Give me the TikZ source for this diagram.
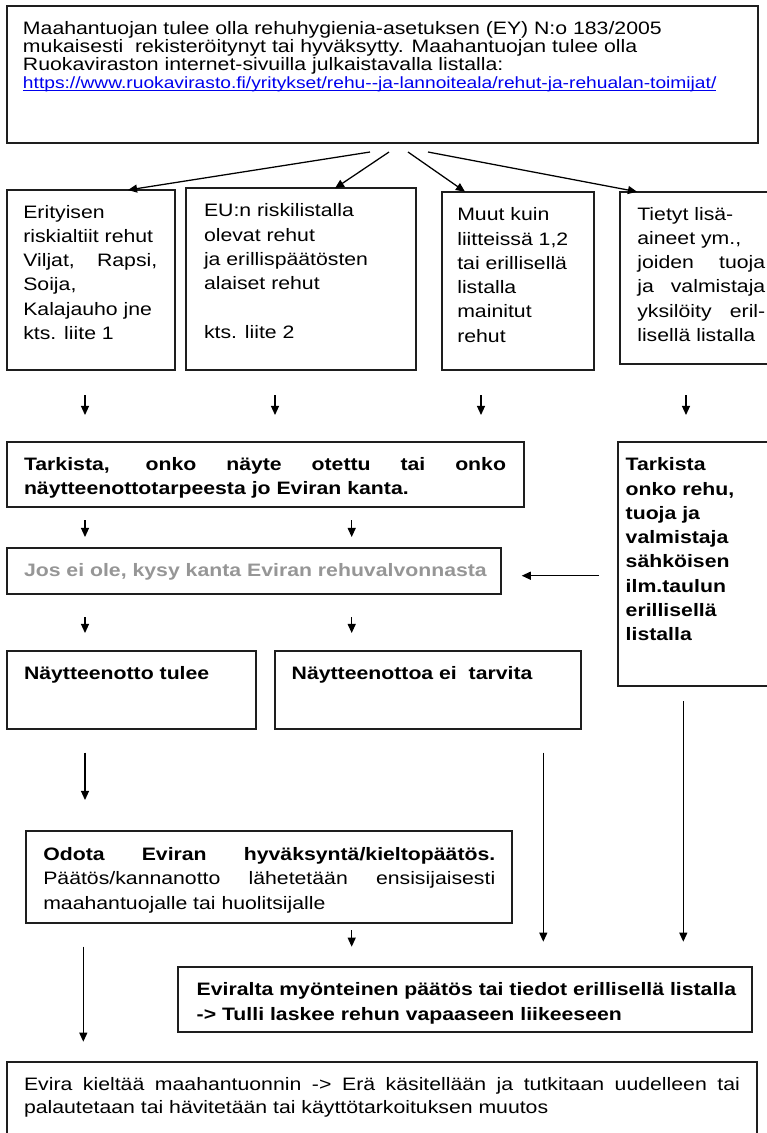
\documentclass[tikz,border=0pt]{standalone}
\usepackage{fontspec}
\setmainfont[FakeStretch=1.18]{Liberation Sans}
\usetikzlibrary{arrows.meta,calc}
\newdimen\px \px=0.75pt
\definecolor{linkblue}{RGB}{0,0,238}
\definecolor{jgray}{RGB}{150,150,150}
\definecolor{edge}{RGB}{30,30,30}
% #1 baselineskip, #2 width, #3 height, #4 left pad, #5 first baseline, #6 content
\newcommand\bxc[6][24.3]{%
  \parbox[c][#3\px][t]{#2\px}{\fontsize{13.5pt}{#1\px}\selectfont
    \lineskiplimit=-100pt\relax\leftskip=#4\px\relax
    \rightskip=0pt plus 1fil\relax\hbadness=10000\relax
    \vspace*{\dimexpr#5\px-14\px\relax}%
    \noindent\rule{0pt}{14\px}\ignorespaces#6\par}}
\newcommand\jl[2]{\makebox[#1\px][s]{#2}}
\newcommand\ulink[1]{\setbox0=\hbox{#1}\rlap{\rule[-2.2\px]{\wd0}{0.9\px}}\box0}
\tikzset{
  box/.style={draw=edge, line width=1.45pt, inner sep=0pt, outer sep=0pt, anchor=north west},
  arr/.style={-{Triangle[length=6.8pt,width=6pt]}, line width=0.95pt, black}
}
\begin{document}
\begin{tikzpicture}[x=0.75pt, y=-0.75pt]
\useasboundingbox (0,0) rectangle (767,1133);
\fill[white] (0,0) rectangle (767,1133);
\clip (0,0) rectangle (767,1133);

\node[box] (top) at (7,6) {\bxc[18]{751}{137}{16}{28.5}{%
Maahantuojan tulee olla rehuhygienia-asetuksen (EY) N:o 183/2005\\
mukaisesti\ \ rekisteröitynyt tai hyväksytty. Maahantuojan tulee olla\\
Ruokaviraston internet-sivuilla julkaistavalla listalla:\\
{\fontsize{12.2pt}{13pt}\selectfont\color{linkblue}\ulink{https://www.ruokavirasto.fi/yritykset/rehu-{}-ja-lannoiteala/rehut-ja-rehualan-toimijat/}}}};

\node[box] (b1) at (7.3,190) {\bxc{167.4}{180.3}{16}{28}{%
Erityisen\\ riskialtiit rehut\\ \jl{134}{Viljat, Rapsi,}\\ Soija,\\ Kalajauho jne\\ kts. liite 1}};
\node[box] (b2) at (186,188.3) {\bxc{230}{182}{18}{28.4}{%
EU:n riskilistalla\\ olevat rehut\\ ja erillispäätösten\\ alaiset rehut\\ \mbox{}\\ kts. liite 2}};
\node[box] (b3) at (441.7,191.7) {\bxc{152.6}{178.6}{15.6}{29}{%
Muut kuin\\ liitteissä 1,2\\ tai erillisellä\\ listalla\\ mainitut\\ rehut}};
\node[box] (b4) at (620,191.7) {\bxc{160}{172.3}{17.3}{28.3}{%
Tietyt lisä-\\ aineet ym.,\\ \jl{128}{joiden tuoja}\\ \jl{128}{ja valmistaja}\\ \jl{128}{yksilöity eril-}\\ lisellä listalla}};

\node[box] (tark) at (7.3,441.7) {\bxc{516.7}{65.6}{16.7}{28.7}{\bfseries
\jl{482}{Tarkista, onko näyte otettu tai onko}\\ näytteenottotarpeesta jo Eviran kanta.}};
\node[box] (jos) at (7.3,547.7) {\bxc{493.4}{46.3}{16.7}{29}{\bfseries\color{jgray}%
Jos ei ole, kysy kanta Eviran rehuvalvonnasta}};
\node[box] (n1) at (7.3,651) {\bxc{248.7}{78.3}{16.7}{28.3}{\bfseries Näytteenotto tulee}};
\node[box] (n2) at (275.3,651) {\bxc{305.7}{78.3}{16.4}{28.3}{\bfseries Näytteenottoa ei\ \ tarvita}};
\node[box] (rb) at (617.7,441.7) {\bxc{160}{244}{8}{29}{\bfseries
Tarkista\\ onko rehu,\\ tuoja ja\\ valmistaja\\ sähköisen\\ ilm.taulun\\ erillisellä\\ listalla}};

\node[box] (od) at (25.7,831) {\bxc[24.6]{486}{92.3}{17.6}{29}{%
{\bfseries\jl{452}{Odota Eviran hyväksyntä/kieltopäätös.}}\\
\jl{452}{Päätös/kannanotto lähetetään ensisijaisesti}\\ maahantuojalle tai huolitsijalle}};
\node[box] (ok) at (178.3,966.7) {\bxc[25.3]{573.4}{65.6}{18.4}{28.3}{\bfseries
Eviralta myönteinen päätös tai tiedot erillisellä listalla\\ -> Tulli laskee rehun vapaaseen liikeeseen}};
\node[box] (no) at (7.3,1061.7) {\bxc[23.5]{750}{100}{16.7}{28.3}{%
\jl{716}{Evira kieltää maahantuonnin -> Erä käsitellään ja tutkitaan uudelleen tai}\\
palautetaan tai hävitetään tai käyttötarkoituksen muutos}};

% connectors from the top box
\coordinate (s1) at (370,152);
\coordinate (s2) at (389,152);
\coordinate (s3) at (408,152);
\coordinate (s4) at (428,152);
\draw[arr] (s1) -- ($(b1.north west)+(120.7,0)$);
\draw[arr] (s2) -- ($(b2.north west)+(149,0)$);
\draw[arr] (s3) -- ($(b3.north west)+(23.3,0)$);
\draw[arr] (s4) -- ($(b4.north west)+(17,0)$);

% short arrows below the four boxes
\coordinate (d1a) at (85,395);  \coordinate (d1b) at (85,415);
\coordinate (d2a) at (275,395); \coordinate (d2b) at (275,415);
\coordinate (d3a) at (481,395); \coordinate (d3b) at (481,415);
\coordinate (d4a) at (686,395); \coordinate (d4b) at (686,415);
\draw[arr] (d1a) -- (d1b);
\draw[arr] (d2a) -- (d2b);
\draw[arr] (d3a) -- (d3b);
\draw[arr] (d4a) -- (d4b);

\coordinate (e1a) at (85,520);    \coordinate (e1b) at (85,537);
\coordinate (e2a) at (351.7,520); \coordinate (e2b) at (351.7,537);
\draw[arr] (e1a) -- (e1b);
\draw[arr] (e2a) -- (e2b);

\coordinate (f1a) at (85,617);    \coordinate (f1b) at (85,633);
\coordinate (f2a) at (351.7,617); \coordinate (f2b) at (351.7,633);
\draw[arr] (f1a) -- (f1b);
\draw[arr] (f2a) -- (f2b);

\coordinate (ha) at (599,575.7); \coordinate (hb) at (521.7,575.7);
\draw[arr] (ha) -- (hb);

\coordinate (g1a) at (85,752.7);    \coordinate (g1b) at (85,800);
\coordinate (g2a) at (543.3,752.7); \coordinate (g2b) at (543.3,941.7);
\coordinate (g3a) at (683.3,701);   \coordinate (g3b) at (683.3,941.7);
\coordinate (g4a) at (351.7,930);   \coordinate (g4b) at (351.7,946.7);
\coordinate (g5a) at (83.3,946.7);  \coordinate (g5b) at (83.3,1041.7);
\draw[arr] (g1a) -- (g1b);
\draw[arr] (g2a) -- (g2b);
\draw[arr] (g3a) -- (g3b);
\draw[arr] (g4a) -- (g4b);
\draw[arr] (g5a) -- (g5b);
\end{tikzpicture}
\end{document}
